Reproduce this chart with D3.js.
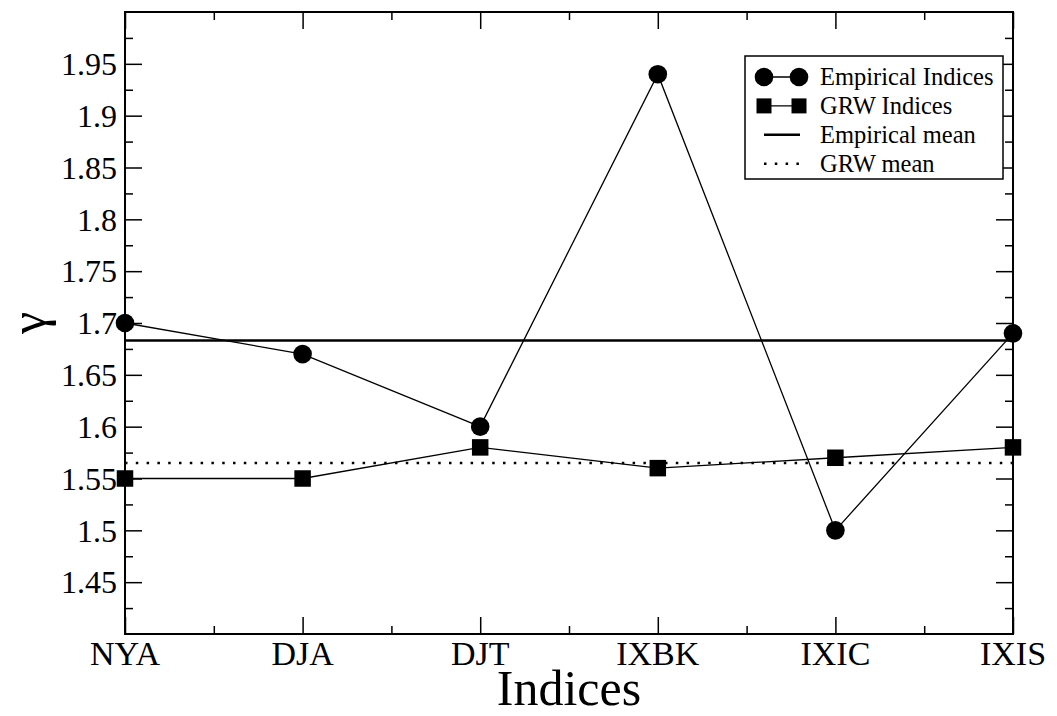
<!DOCTYPE html>
<html>
<head>
<meta charset="utf-8">
<script src="https://cdn.jsdelivr.net/npm/d3@7"></script>
<style>
html,body{margin:0;padding:0;background:#fff;}
svg{display:block;}
</style>
</head>
<body>
<script>
const categories = ["NYA","DJA","DJT","IXBK","IXIC","IXIS"];
const empirical = [1.70,1.67,1.60,1.94,1.50,1.69];
const grw = [1.55,1.55,1.58,1.56,1.57,1.58];
const empiricalMean = 1.683;
const grwMean = 1.565;
const yTicks = [1.45,1.5,1.55,1.6,1.65,1.7,1.75,1.8,1.85,1.9,1.95];
const yMinorTicks = [1.425,1.475,1.525,1.575,1.625,1.675,1.725,1.775,1.825,1.875,1.925,1.975];
const legendLabels = ["Empirical Indices","GRW Indices","Empirical mean","GRW mean"];

const FONT="'Liberation Serif','Times New Roman',Times,'DejaVu Serif',serif";
const W=1057,H=716;
const L=125,R=1013,T=12,B=634;
const svg=d3.select("body").append("svg").attr("width",W).attr("height",H)
  .attr("font-family",FONT);

const x=d3.scaleLinear().domain([0,categories.length-1]).range([L,R]);
const y=d3.scaleLinear().domain([1.4,2.0]).range([B,T]);
const xMinor=d3.range(categories.length-1).map(i=>i+0.5);

function styleAxis(g){g.select(".domain").remove();g.selectAll("line").attr("stroke","#000").attr("stroke-width",1.5);}
const fmt=d=>String(+d.toFixed(3));
svg.append("g").attr("transform",`translate(${L},0)`)
  .call(d3.axisRight(y).tickValues(yTicks).tickSize(17).tickFormat(""))
  .call(styleAxis);
svg.append("g").attr("transform",`translate(${L},0)`)
  .call(d3.axisRight(y).tickValues(yMinorTicks).tickSize(8).tickFormat(""))
  .call(styleAxis);
svg.append("g").attr("transform",`translate(${R},0)`)
  .call(d3.axisLeft(y).tickValues(yTicks).tickSize(17).tickFormat(""))
  .call(styleAxis);
svg.append("g").attr("transform",`translate(${R},0)`)
  .call(d3.axisLeft(y).tickValues(yMinorTicks).tickSize(8).tickFormat(""))
  .call(styleAxis);
svg.append("g").selectAll("text").data(yTicks).join("text")
  .attr("x",L-8).attr("y",d=>y(d)).attr("dy","0.35em")
  .attr("text-anchor","end").attr("font-size",32).attr("font-family",FONT).text(fmt);

svg.append("g").attr("transform",`translate(0,${B})`)
  .call(d3.axisTop(x).tickValues(d3.range(categories.length)).tickSize(17).tickFormat(""))
  .call(styleAxis);
svg.append("g").attr("transform",`translate(0,${B})`)
  .call(d3.axisTop(x).tickValues(xMinor).tickSize(8).tickFormat(""))
  .call(styleAxis);
svg.append("g").attr("transform",`translate(0,${T})`)
  .call(d3.axisBottom(x).tickValues(d3.range(categories.length)).tickSize(17).tickFormat(""))
  .call(styleAxis);
svg.append("g").attr("transform",`translate(0,${T})`)
  .call(d3.axisBottom(x).tickValues(xMinor).tickSize(8).tickFormat(""))
  .call(styleAxis);
svg.append("g").selectAll("text").data(categories).join("text")
  .attr("x",(d,i)=>x(i)).attr("y",665)
  .attr("text-anchor","middle").attr("font-size",34).attr("font-family",FONT).text(d=>d);

svg.append("rect").attr("x",L).attr("y",T).attr("width",R-L).attr("height",B-T)
  .attr("fill","none").attr("stroke","#000").attr("stroke-width",2);

svg.append("text").attr("x",(L+R)/2).attr("y",705).attr("text-anchor","middle")
  .attr("font-size",50).attr("font-family",FONT).text("Indices");
svg.append("text").attr("transform",`translate(45,323) rotate(-90)`).attr("text-anchor","middle")
  .attr("font-size",50).attr("font-family",FONT).text("γ");

svg.append("line").attr("x1",L).attr("x2",R).attr("y1",y(empiricalMean)).attr("y2",y(empiricalMean))
  .attr("stroke","#000").attr("stroke-width",2.5);
svg.append("line").attr("x1",L).attr("x2",R).attr("y1",y(grwMean)).attr("y2",y(grwMean))
  .attr("stroke","#000").attr("stroke-width",2.5).attr("stroke-dasharray","2.5 8.3");

const line=d3.line().x((d,i)=>x(i)).y(d=>y(d));
svg.append("path").datum(empirical).attr("d",line).attr("fill","none").attr("stroke","#000").attr("stroke-width",1.3);
svg.append("path").datum(grw).attr("d",line).attr("fill","none").attr("stroke","#000").attr("stroke-width",1.3);
svg.append("g").selectAll("circle").data(empirical).join("circle")
  .attr("cx",(d,i)=>x(i)).attr("cy",d=>y(d)).attr("r",9.3).attr("fill","#000");
const sq=16.5;
svg.append("g").selectAll("rect").data(grw).join("rect")
  .attr("x",(d,i)=>x(i)-sq/2).attr("y",d=>y(d)-sq/2).attr("width",sq).attr("height",sq).attr("fill","#000");

const lg=svg.append("g");
lg.append("rect").attr("x",745).attr("y",56).attr("width",258).attr("height",123)
  .attr("fill","#fff").attr("stroke","#000").attr("stroke-width",1.5);
const rowY=i=>77+i*28.9;
const lx1=764,lx2=799;
lg.append("line").attr("x1",lx1).attr("x2",lx2).attr("y1",rowY(0)).attr("y2",rowY(0)).attr("stroke","#000").attr("stroke-width",1.3);
[lx1,lx2].forEach(cx=>lg.append("circle").attr("cx",cx).attr("cy",rowY(0)).attr("r",9.3).attr("fill","#000"));
lg.append("line").attr("x1",lx1).attr("x2",lx2).attr("y1",rowY(1)).attr("y2",rowY(1)).attr("stroke","#000").attr("stroke-width",1.3);
[lx1,lx2].forEach(cx=>lg.append("rect").attr("x",cx-7.5).attr("y",rowY(1)-7.5).attr("width",15).attr("height",15).attr("fill","#000"));
lg.append("line").attr("x1",lx1).attr("x2",lx2+1).attr("y1",rowY(2)).attr("y2",rowY(2)).attr("stroke","#000").attr("stroke-width",2.5);
lg.append("line").attr("x1",lx1).attr("x2",lx2+1).attr("y1",rowY(3)).attr("y2",rowY(3)).attr("stroke","#000").attr("stroke-width",2.5).attr("stroke-dasharray","2.5 8.3");
lg.selectAll("text.l").data(legendLabels).join("text").attr("class","l")
  .attr("x",820).attr("y",(d,i)=>rowY(i)).attr("dy","0.33em").attr("font-size",24.5).attr("font-family",FONT).text(d=>d);
</script>
</body>
</html>
